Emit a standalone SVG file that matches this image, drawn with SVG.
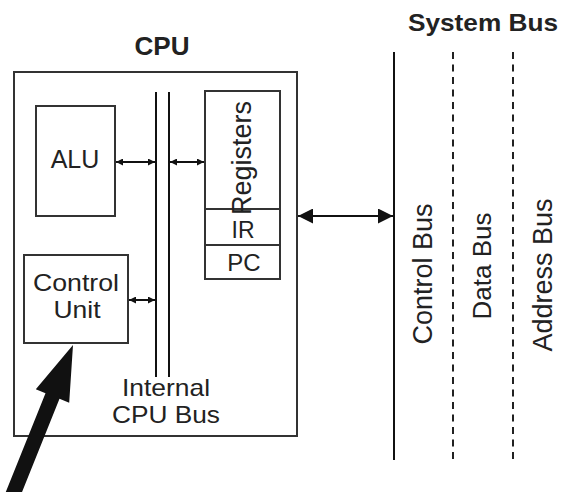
<svg xmlns="http://www.w3.org/2000/svg" width="564" height="492" viewBox="0 0 564 492">
<defs>
<style>
.t{font-family:"Liberation Sans",Arial,sans-serif;fill:#222;}
.b{font-weight:bold;}
.box{fill:none;stroke:#333;stroke-width:2;}
.ln{stroke:#111;stroke-width:2;fill:none;}
.dash{stroke:#222;stroke-width:2;stroke-dasharray:7 5.5;fill:none;}
</style>
<marker id="sa" viewBox="0 0 10 10" refX="10" refY="5" markerWidth="8" markerHeight="7" markerUnits="userSpaceOnUse" orient="auto-start-reverse"><path d="M0,0 L10,5 L0,10 Z" fill="#111"/></marker>
<marker id="la" viewBox="0 0 10 10" refX="10" refY="5" markerWidth="24" markerHeight="15" markerUnits="userSpaceOnUse" orient="auto-start-reverse"><path d="M0,0 L10,5 L0,10 Z" fill="#111"/></marker>
</defs>
<rect width="564" height="492" fill="#fff"/>

<g id="cpu">
<text class="t b" x="162" y="55" font-size="25" text-anchor="middle" textLength="55" lengthAdjust="spacingAndGlyphs">CPU</text>
<rect class="box" x="14" y="72" width="283" height="364"/>
</g>

<g id="alu">
<rect class="box" x="36" y="106" width="79" height="110"/>
<text class="t" x="75" y="168" font-size="25" text-anchor="middle">ALU</text>
</g>

<g id="control-unit">
<rect class="box" x="24" y="255" width="104" height="88"/>
<text class="t" x="76" y="291" font-size="24" text-anchor="middle" textLength="86" lengthAdjust="spacingAndGlyphs">Control</text>
<text class="t" x="77" y="318" font-size="24" text-anchor="middle" textLength="47" lengthAdjust="spacingAndGlyphs">Unit</text>
</g>

<g id="internal-bus">
<line class="ln" x1="156" y1="92" x2="156" y2="377"/>
<line class="ln" x1="169" y1="92" x2="169" y2="377"/>
<text class="t" x="166" y="396" font-size="24" text-anchor="middle" textLength="88" lengthAdjust="spacingAndGlyphs">Internal</text>
<text class="t" x="166" y="423" font-size="24" text-anchor="middle" textLength="108" lengthAdjust="spacingAndGlyphs">CPU Bus</text>
</g>

<g id="registers">
<rect class="box" x="205" y="91" width="75" height="188"/>
<line class="box" x1="205" y1="209" x2="280" y2="209"/>
<line class="box" x1="205" y1="245" x2="280" y2="245"/>
<text class="t" transform="translate(251,158) rotate(-90)" font-size="27" text-anchor="middle">Registers</text>
<text class="t" x="243" y="238" font-size="23" text-anchor="middle">IR</text>
<text class="t" x="244" y="271" font-size="24" text-anchor="middle">PC</text>
</g>

<g id="system-bus">
<text class="t b" x="483" y="31" font-size="24" text-anchor="middle" textLength="150" lengthAdjust="spacingAndGlyphs">System Bus</text>
<line class="ln" x1="394" y1="52" x2="394" y2="460"/>
<line class="dash" x1="453" y1="52" x2="453" y2="460"/>
<line class="dash" x1="513" y1="52" x2="513" y2="460"/>
<text class="t" transform="translate(432,274) rotate(-90)" font-size="27" text-anchor="middle">Control Bus</text>
<text class="t" transform="translate(491,266) rotate(-90)" font-size="26" text-anchor="middle">Data Bus</text>
<text class="t" transform="translate(552,275) rotate(-90)" font-size="27" text-anchor="middle">Address Bus</text>
</g>

<g id="connectors">
<line class="ln" x1="116" y1="162" x2="155" y2="162" marker-start="url(#sa)" marker-end="url(#sa)"/>
<line class="ln" x1="170" y1="162" x2="204" y2="162" marker-start="url(#sa)" marker-end="url(#sa)"/>
<line class="ln" x1="129" y1="300" x2="155" y2="300" stroke-width="1.5" marker-start="url(#sa)" marker-end="url(#sa)"/>
<line class="ln" x1="298" y1="216" x2="393" y2="216" marker-start="url(#la)" marker-end="url(#la)"/>
<polygon points="73,345 69.2,402.7 59.5,398.8 18.5,500.8 4.5,495.2 45.5,393.2 35.8,389.3" fill="#111"/>
</g>
</svg>
